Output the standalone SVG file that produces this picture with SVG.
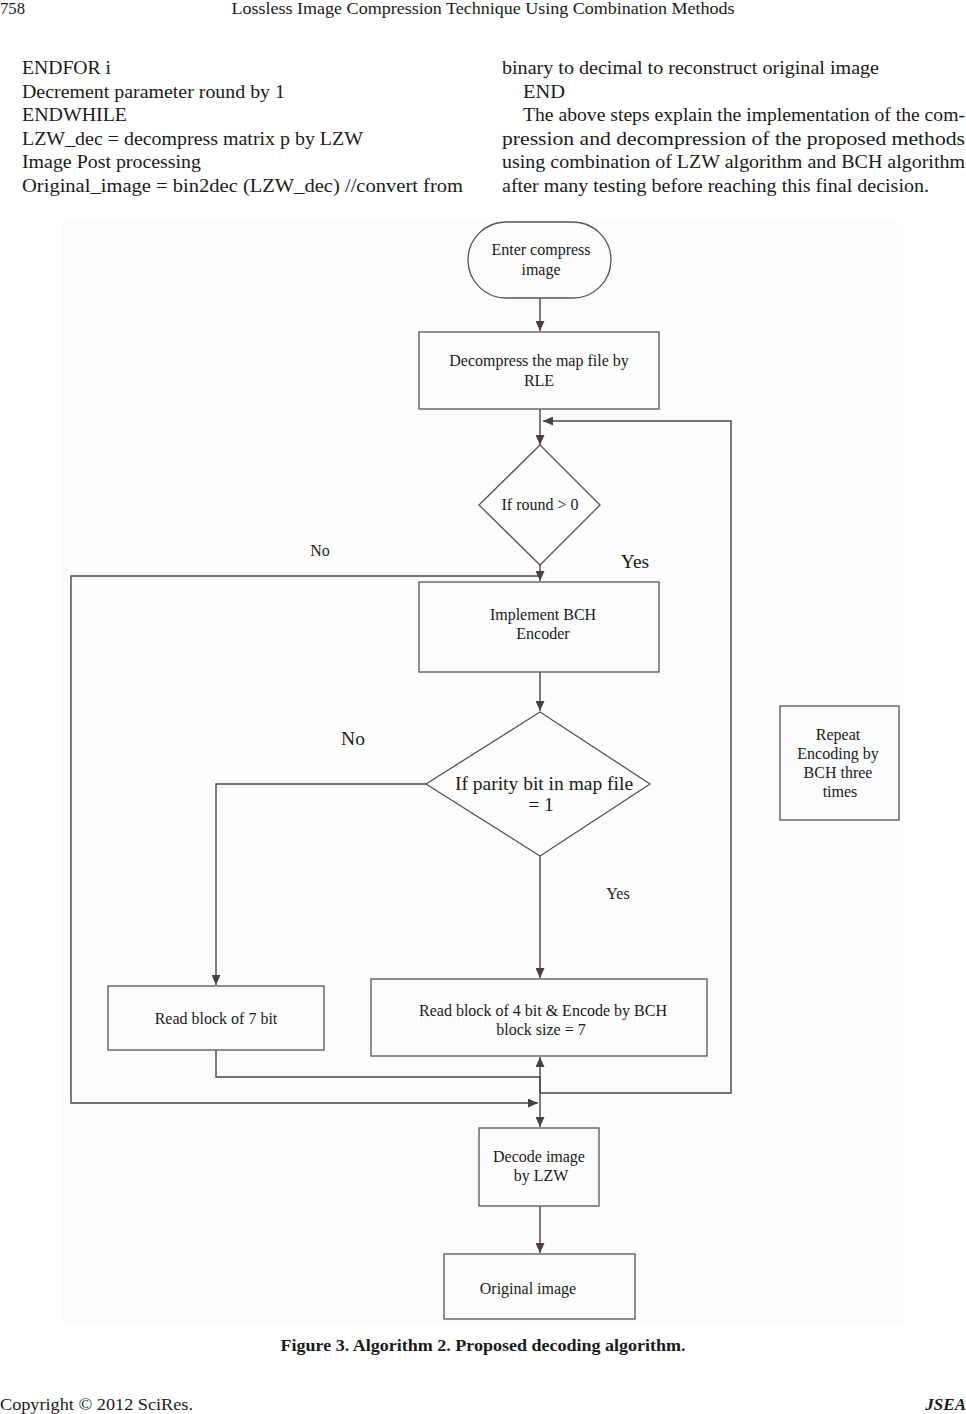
<svg xmlns="http://www.w3.org/2000/svg" width="966" height="1414" viewBox="0 0 966 1414">
<style>
.t{font-family:"Liberation Serif","Times New Roman",serif;fill:#1a1a1a}
.b{font-size:19.5px}
.n{font-size:16px;text-anchor:middle}
.l{font-size:19.5px;text-anchor:middle}
.box{fill:#fcfcfc;stroke:#555;stroke-width:1.3}
.c{fill:none;stroke:#4a4444;stroke-width:1.4}
</style>
<defs>
<marker id="ah" markerUnits="userSpaceOnUse" markerWidth="10" markerHeight="9" refX="10" refY="4.5" orient="auto">
<path d="M0,0 L10,4.5 L0,9 z" fill="#4a4040"/>
</marker>
</defs>
<rect width="966" height="1414" fill="#fff"/>
<g id="header">
<text class="t" x="0" y="14" font-size="17" textLength="25" lengthAdjust="spacingAndGlyphs">758</text>
<text class="t" x="483" y="14" font-size="17" text-anchor="middle" textLength="503" lengthAdjust="spacingAndGlyphs">Lossless Image Compression Technique Using Combination Methods</text>
</g>
<g id="body-text">
<text class="t b" x="22" y="74" textLength="89" lengthAdjust="spacingAndGlyphs">ENDFOR i</text>
<text class="t b" x="22" y="97.5" textLength="263" lengthAdjust="spacingAndGlyphs">Decrement parameter round by 1</text>
<text class="t b" x="22" y="121" textLength="105" lengthAdjust="spacingAndGlyphs">ENDWHILE</text>
<text class="t b" x="22" y="144.5" textLength="341" lengthAdjust="spacingAndGlyphs">LZW_dec = decompress matrix p by LZW</text>
<text class="t b" x="22" y="168" textLength="179" lengthAdjust="spacingAndGlyphs">Image Post processing</text>
<text class="t b" x="22" y="191.5" textLength="441" lengthAdjust="spacingAndGlyphs">Original_image = bin2dec (LZW_dec) //convert from</text>
<text class="t b" x="502" y="74" textLength="377" lengthAdjust="spacingAndGlyphs">binary to decimal to reconstruct original image</text>
<text class="t b" x="523" y="97.5" textLength="42" lengthAdjust="spacingAndGlyphs">END</text>
<text class="t b" x="523" y="121" textLength="442" lengthAdjust="spacingAndGlyphs">The above steps explain the implementation of the com-</text>
<text class="t b" x="502" y="144.5" textLength="463" lengthAdjust="spacingAndGlyphs">pression and decompression of the proposed methods</text>
<text class="t b" x="502" y="168" textLength="463" lengthAdjust="spacingAndGlyphs">using combination of LZW algorithm and BCH algorithm</text>
<text class="t b" x="502" y="191.5" textLength="427" lengthAdjust="spacingAndGlyphs">after many testing before reaching this final decision.</text>
</g>
<rect id="figure-bg" x="62" y="222" width="841" height="1102" fill="#fcfcfc"/>
<g id="connectors">
<line class="c" x1="540" y1="298" x2="540" y2="331" marker-end="url(#ah)"/>
<line class="c" x1="540" y1="409" x2="540" y2="445" marker-end="url(#ah)"/>
<polyline class="c" points="540,1093 731,1093 731,421 543,421" marker-end="url(#ah)"/>
<line class="c" x1="540" y1="565" x2="540" y2="581" marker-end="url(#ah)"/>
<polyline class="c" points="540,576 71,576 71,1103 538,1103" marker-end="url(#ah)"/>
<line class="c" x1="540" y1="672" x2="540" y2="711" marker-end="url(#ah)"/>
<polyline class="c" points="426,784 216,784 216,985" marker-end="url(#ah)"/>
<line class="c" x1="540" y1="856" x2="540" y2="978" marker-end="url(#ah)"/>
<polyline class="c" points="216,1050 216,1077 540,1077"/>
<line class="c" x1="540" y1="1093" x2="540" y2="1057" marker-end="url(#ah)"/>
<line class="c" x1="540" y1="1077" x2="540" y2="1127" marker-end="url(#ah)"/>
<line class="c" x1="540" y1="1206" x2="540" y2="1253" marker-end="url(#ah)"/>
</g>
<g id="start">
<rect class="box" x="468" y="222" width="143" height="76" rx="38" ry="38"/>
<text class="t n" x="541" y="255">Enter compress</text>
<text class="t n" x="541" y="275">image</text>
</g>
<g id="rle">
<rect class="box" x="419" y="332" width="240" height="77"/>
<text class="t n" x="539" y="366">Decompress the map file by</text>
<text class="t n" x="539" y="386">RLE</text>
</g>
<g id="round-check">
<polygon class="box" points="540,445 600,505 540,565 479,505"/>
<text class="t n" x="540" y="510">If round &gt; 0</text>
</g>
<g id="bch-encoder">
<rect class="box" x="419" y="582" width="240" height="90"/>
<text class="t n" x="543" y="620">Implement BCH</text>
<text class="t n" x="543" y="639">Encoder</text>
</g>
<g id="parity-check">
<polygon class="box" points="540,712 650,784 540,856 426,784"/>
<text class="t l" x="544" y="790">If parity bit in map file</text>
<text class="t l" x="541" y="811">= 1</text>
</g>
<g id="read7">
<rect class="box" x="108" y="986" width="216" height="64"/>
<text class="t n" x="216" y="1024">Read block of 7 bit</text>
</g>
<g id="read4">
<rect class="box" x="371" y="979" width="336" height="77"/>
<text class="t n" x="543" y="1016">Read block of 4 bit &amp; Encode by BCH</text>
<text class="t n" x="541" y="1035">block size = 7</text>
</g>
<g id="repeat-note">
<rect class="box" x="780" y="706" width="119" height="114"/>
<text class="t n" x="838" y="740">Repeat</text>
<text class="t n" x="838" y="759">Encoding by</text>
<text class="t n" x="838" y="778">BCH three</text>
<text class="t n" x="840" y="797">times</text>
</g>
<g id="decode-lzw">
<rect class="box" x="479" y="1128" width="120" height="78"/>
<text class="t n" x="539" y="1162">Decode image</text>
<text class="t n" x="541" y="1181">by LZW</text>
</g>
<g id="original">
<rect class="box" x="444" y="1254" width="191" height="65"/>
<text class="t n" x="528" y="1294">Original image</text>
</g>
<g id="labels">
<text class="t n" x="320" y="556" font-size="16.5">No</text>
<text class="t l" x="635" y="568">Yes</text>
<text class="t l" x="353" y="745">No</text>
<text class="t n" x="618" y="899">Yes</text>
</g>
<g id="footer">
<text class="t" x="483" y="1351" font-size="17" font-weight="bold" text-anchor="middle" textLength="405" lengthAdjust="spacingAndGlyphs">Figure 3. Algorithm 2. Proposed decoding algorithm.</text>
<text class="t" x="0" y="1410" font-size="17" textLength="193" lengthAdjust="spacingAndGlyphs">Copyright © 2012 SciRes.</text>
<text class="t" x="966" y="1410" font-size="17" font-weight="bold" font-style="italic" text-anchor="end">JSEA</text>
</g>
</svg>
